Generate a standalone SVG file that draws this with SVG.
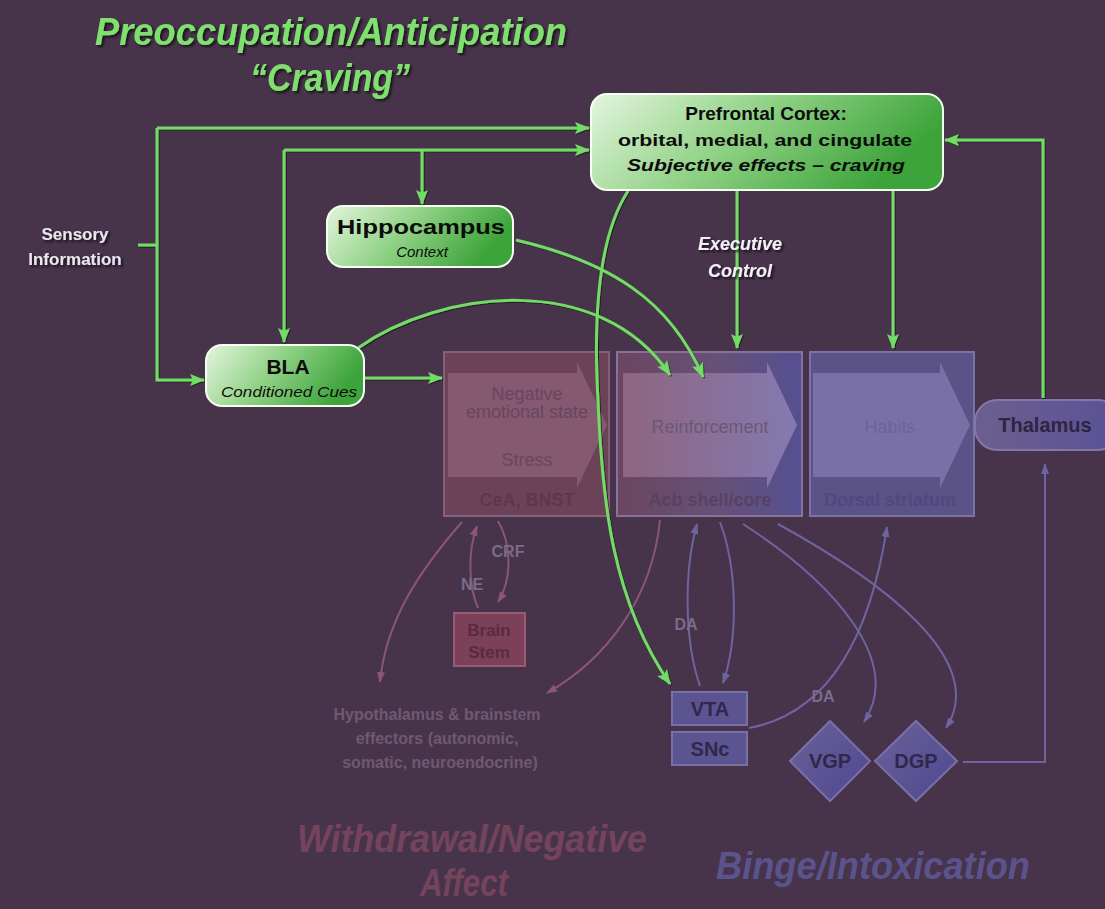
<svg xmlns="http://www.w3.org/2000/svg" width="1105" height="909" viewBox="0 0 1105 909">
<defs>
<style>
.title{font-family:"Liberation Sans Narrow","Liberation Sans",Arial,sans-serif;font-style:italic;font-weight:bold}
.g{fill:none;stroke:#72dc66;stroke-width:3}
.pk{fill:none;stroke:#8a5670;stroke-width:2}
.bl{fill:none;stroke:#6e649e;stroke-width:2}
.node{stroke:#f4fff0;stroke-width:2}
.fb{font-family:"Liberation Sans",Arial,sans-serif;text-anchor:middle}
</style>
<linearGradient id="gg" x1="0" y1="0" x2="1" y2="0.3">
<stop offset="0" stop-color="#e4f5df"/><stop offset="0.5" stop-color="#8fd184"/><stop offset="1" stop-color="#3da43b"/>
</linearGradient>
<linearGradient id="acb" x1="0" y1="0" x2="1" y2="0">
<stop offset="0" stop-color="#6c4560"/><stop offset="0.55" stop-color="#665178"/><stop offset="1" stop-color="#554f92"/>
</linearGradient>
<linearGradient id="acbA" x1="0" y1="0" x2="1" y2="0">
<stop offset="0" stop-color="#8e6580"/><stop offset="1" stop-color="#847ab0"/>
</linearGradient>
<linearGradient id="thal" x1="0" y1="0" x2="1" y2="0">
<stop offset="0" stop-color="#6c5f8e"/><stop offset="1" stop-color="#5a5298"/>
</linearGradient>
<linearGradient id="dia" x1="0" y1="0" x2="1" y2="1">
<stop offset="0" stop-color="#6a6298"/><stop offset="1" stop-color="#4d4790"/>
</linearGradient>
<filter id="sh" x="-10%" y="-20%" width="120%" height="140%">
<feDropShadow dx="2" dy="2" stdDeviation="1" flood-color="#120a14" flood-opacity="0.9"/>
</filter>
<filter id="lsh" x="-5%" y="-5%" width="110%" height="110%">
<feDropShadow dx="1" dy="1" stdDeviation="0.7" flood-color="#120a14" flood-opacity="0.8"/>
</filter>
<marker id="ag" markerWidth="16" markerHeight="14" refX="14" refY="7" orient="auto" markerUnits="userSpaceOnUse">
<path d="M0,1 L15,7 L0,13 L3,7 Z" fill="#72dc66"/>
</marker>
<marker id="ap" markerWidth="12" markerHeight="10" refX="10" refY="5" orient="auto" markerUnits="userSpaceOnUse">
<path d="M0,1 L11,5 L0,9 Z" fill="#8a5670"/>
</marker>
<marker id="ab" markerWidth="12" markerHeight="10" refX="10" refY="5" orient="auto" markerUnits="userSpaceOnUse">
<path d="M0,1 L11,5 L0,9 Z" fill="#6e649e"/>
</marker>
</defs>
<rect width="1105" height="909" fill="#47344a"/>

<!-- Titles -->
<g id="title-craving" filter="url(#sh)" fill="#7fe070">
<text class="title" x="331" y="45" font-size="38" text-anchor="middle" textLength="472" lengthAdjust="spacingAndGlyphs">Preoccupation/Anticipation</text>
<text class="title" x="330" y="91" font-size="38" text-anchor="middle" textLength="160" lengthAdjust="spacingAndGlyphs">“Craving”</text>
</g>
<g id="title-withdrawal" fill="#74445c">
<text class="title" x="472" y="852" font-size="38" text-anchor="middle" textLength="350" lengthAdjust="spacingAndGlyphs">Withdrawal/Negative</text>
<text class="title" x="464" y="896" font-size="38" text-anchor="middle" textLength="88" lengthAdjust="spacingAndGlyphs">Affect</text>
</g>
<g id="title-binge" fill="#5b538c">
<text class="title" x="873" y="879" font-size="38" text-anchor="middle" textLength="314" lengthAdjust="spacingAndGlyphs">Binge/Intoxication</text>
</g>

<!-- Faded boxes -->
<g id="neg-box">
<rect x="444" y="352" width="165" height="164" fill="#6c4258" stroke="#84607a" stroke-width="2"/>
<path d="M448,373 H577 V362 L607,425 L577,488 V477 H448 Z" fill="#85596f"/>
<text class="fb" x="527" y="400" font-size="18" fill="#684660">Negative</text>
<text class="fb" x="527" y="418" font-size="18" fill="#684660">emotional state</text>
<text class="fb" x="527" y="466" font-size="18" fill="#684660">Stress</text>
<text class="fb" x="527" y="506" font-size="18" font-weight="bold" fill="#5c384e">CeA, BNST</text>
</g>
<g id="acb-box">
<rect x="617" y="352" width="185" height="164" fill="url(#acb)" stroke="#86739a" stroke-width="2"/>
<path d="M623,373 H767 V362 L797,425 L767,488 V477 H623 Z" fill="url(#acbA)"/>
<text class="fb" x="710" y="433" font-size="18" fill="#6a5876">Reinforcement</text>
<text class="fb" x="710" y="506" font-size="18" font-weight="bold" fill="#584264">Acb shell/core</text>
</g>
<g id="ds-box">
<rect x="810" y="352" width="164" height="164" fill="#5b5288" stroke="#7c72a8" stroke-width="2"/>
<path d="M813,373 H940 V362 L970,425 L940,488 V477 H813 Z" fill="#7a70a8"/>
<text class="fb" x="890" y="433" font-size="18" fill="#6c6396">Habits</text>
<text class="fb" x="890" y="506" font-size="18" font-weight="bold" fill="#50487e">Dorsal striatum</text>
</g>
<g id="thalamus">
<rect x="975" y="400" width="145" height="50" rx="22" fill="url(#thal)" stroke="#8576a8" stroke-width="2"/>
<text class="fb" x="1045" y="432" font-size="20" font-weight="bold" fill="#2e2444">Thalamus</text>
</g>
<g id="brain-stem">
<rect x="454" y="613" width="71" height="53" fill="#7c4058" stroke="#985a74" stroke-width="2"/>
<text class="fb" x="489" y="636" font-size="17" font-weight="bold" fill="#592a40">Brain</text>
<text class="fb" x="489" y="658" font-size="17" font-weight="bold" fill="#592a40">Stem</text>
</g>
<g id="hypothalamus">
<text class="fb" x="437" y="720" font-size="16" font-weight="bold" fill="#705872">Hypothalamus &amp; brainstem</text>
<text class="fb" x="437" y="744" font-size="16" font-weight="bold" fill="#705872">effectors (autonomic,</text>
<text class="fb" x="440" y="768" font-size="16" font-weight="bold" fill="#705872">somatic, neuroendocrine)</text>
</g>
<g id="vta">
<rect x="672" y="692" width="75" height="33" fill="#5c5490" stroke="#7a70a8" stroke-width="2"/>
<text class="fb" x="710" y="716" font-size="20" font-weight="bold" fill="#30284c">VTA</text>
</g>
<g id="snc">
<rect x="672" y="732" width="75" height="33" fill="#5c5490" stroke="#7a70a8" stroke-width="2"/>
<text class="fb" x="710" y="756" font-size="20" font-weight="bold" fill="#30284c">SNc</text>
</g>
<g id="vgp">
<path d="M830,721 L870,761 L830,801 L790,761 Z" fill="url(#dia)" stroke="#7a70a8" stroke-width="2"/>
<text class="fb" x="830" y="768" font-size="20" font-weight="bold" fill="#30284c">VGP</text>
</g>
<g id="dgp">
<path d="M916,721 L957,761 L916,801 L875,761 Z" fill="url(#dia)" stroke="#7a70a8" stroke-width="2"/>
<text class="fb" x="916" y="768" font-size="20" font-weight="bold" fill="#30284c">DGP</text>
</g>

<!-- Faded connectors -->
<g id="faded-connectors">
<path class="pk" d="M462,522 C420,570 386,620 380,682" marker-end="url(#ap)"/>
<path class="pk" d="M478,608 C468,585 468,550 477,526" marker-end="url(#ap)"/>
<path class="pk" d="M498,521 C512,545 512,580 498,602" marker-end="url(#ap)"/>
<path class="pk" d="M660,520 C652,600 605,660 547,693" marker-end="url(#ap)"/>
<path class="bl" d="M700,686 C684,640 684,570 697,524" marker-end="url(#ab)"/>
<path class="bl" d="M720,522 C738,570 738,640 723,683" marker-end="url(#ab)"/>
<path class="bl" d="M749,728 C820,715 868,650 887,527" marker-end="url(#ab)"/>
<path class="bl" d="M743,524 C830,580 905,660 864,722" marker-end="url(#ab)"/>
<path class="bl" d="M778,524 C880,580 990,660 946,728" marker-end="url(#ab)"/>
<path class="bl" d="M963,762 H1045 V464" marker-end="url(#ab)"/>
<g font-family="Liberation Sans, Arial, sans-serif" font-weight="bold" font-size="16" fill="#7a6c8a" text-anchor="middle">
<text x="508" y="557">CRF</text>
<text x="472" y="590">NE</text>
<text x="686" y="630">DA</text>
<text x="823" y="702">DA</text>
</g>
</g>

<!-- Green connectors -->
<g id="connectors" filter="url(#lsh)">
<path class="g" d="M138,245 H157"/>
<path class="g" d="M157,128 V380 H204" marker-end="url(#ag)"/>
<path class="g" d="M157,128 H589" marker-end="url(#ag)"/>
<path class="g" d="M284,150 H589" marker-end="url(#ag)"/>
<path class="g" d="M284,150 V342" marker-end="url(#ag)"/>
<path class="g" d="M422,150 V204" marker-end="url(#ag)"/>
<path class="g" d="M1043,398 V140 H945" marker-end="url(#ag)"/>
<path class="g" d="M737,190 V348" marker-end="url(#ag)"/>
<path class="g" d="M893,190 V348" marker-end="url(#ag)"/>
<path class="g" d="M364,378 H442" marker-end="url(#ag)"/>
<path class="g" d="M358,348 C440,290 600,270 670,375" marker-end="url(#ag)"/>
<path class="g" d="M516,240 C610,262 670,300 703,377" marker-end="url(#ag)"/>
<path class="g" d="M628,191 C596,240 594,330 598,400 C602,500 612,600 670,684" marker-end="url(#ag)"/>
</g>

<!-- Green nodes -->
<g id="pfc">
<rect class="node" x="591" y="94" width="352" height="96" rx="16" fill="url(#gg)"/>
<text class="fb" x="766" y="120" font-size="19" font-weight="bold" fill="#0c0c0c">Prefrontal Cortex:</text>
<text class="fb" x="765" y="146" font-size="16.5" font-weight="bold" fill="#0c0c0c" textLength="294" lengthAdjust="spacingAndGlyphs">orbital, medial, and cingulate</text>
<text class="fb" x="766" y="171" font-size="16.5" font-weight="bold" font-style="italic" fill="#0c0c0c" textLength="278" lengthAdjust="spacingAndGlyphs">Subjective effects – craving</text>
</g>
<g id="hippocampus">
<rect class="node" x="327" y="206" width="186" height="61" rx="16" fill="url(#gg)"/>
<text class="fb" x="421" y="234" font-size="21" font-weight="bold" fill="#0c0c0c" textLength="168" lengthAdjust="spacingAndGlyphs">Hippocampus</text>
<text class="fb" x="422" y="257" font-size="15" font-style="italic" fill="#0c0c0c">Context</text>
</g>
<g id="bla">
<rect class="node" x="206" y="345" width="158" height="61" rx="16" fill="url(#gg)"/>
<text class="fb" x="288" y="374" font-size="21" font-weight="bold" fill="#0c0c0c">BLA</text>
<text class="fb" x="289" y="397" font-size="15" font-style="italic" fill="#0c0c0c" textLength="136" lengthAdjust="spacingAndGlyphs">Conditioned Cues</text>
</g>

<!-- Labels -->
<g id="sensory" filter="url(#sh)" fill="#ece4f0">
<text class="fb" x="75" y="240" font-size="17" font-weight="bold">Sensory</text>
<text class="fb" x="75" y="265" font-size="17" font-weight="bold">Information</text>
</g>
<g id="exec" filter="url(#sh)" fill="#f4eef8">
<text class="fb" x="740" y="250" font-size="18" font-weight="bold" font-style="italic">Executive</text>
<text class="fb" x="740" y="277" font-size="18" font-weight="bold" font-style="italic">Control</text>
</g>
</svg>
